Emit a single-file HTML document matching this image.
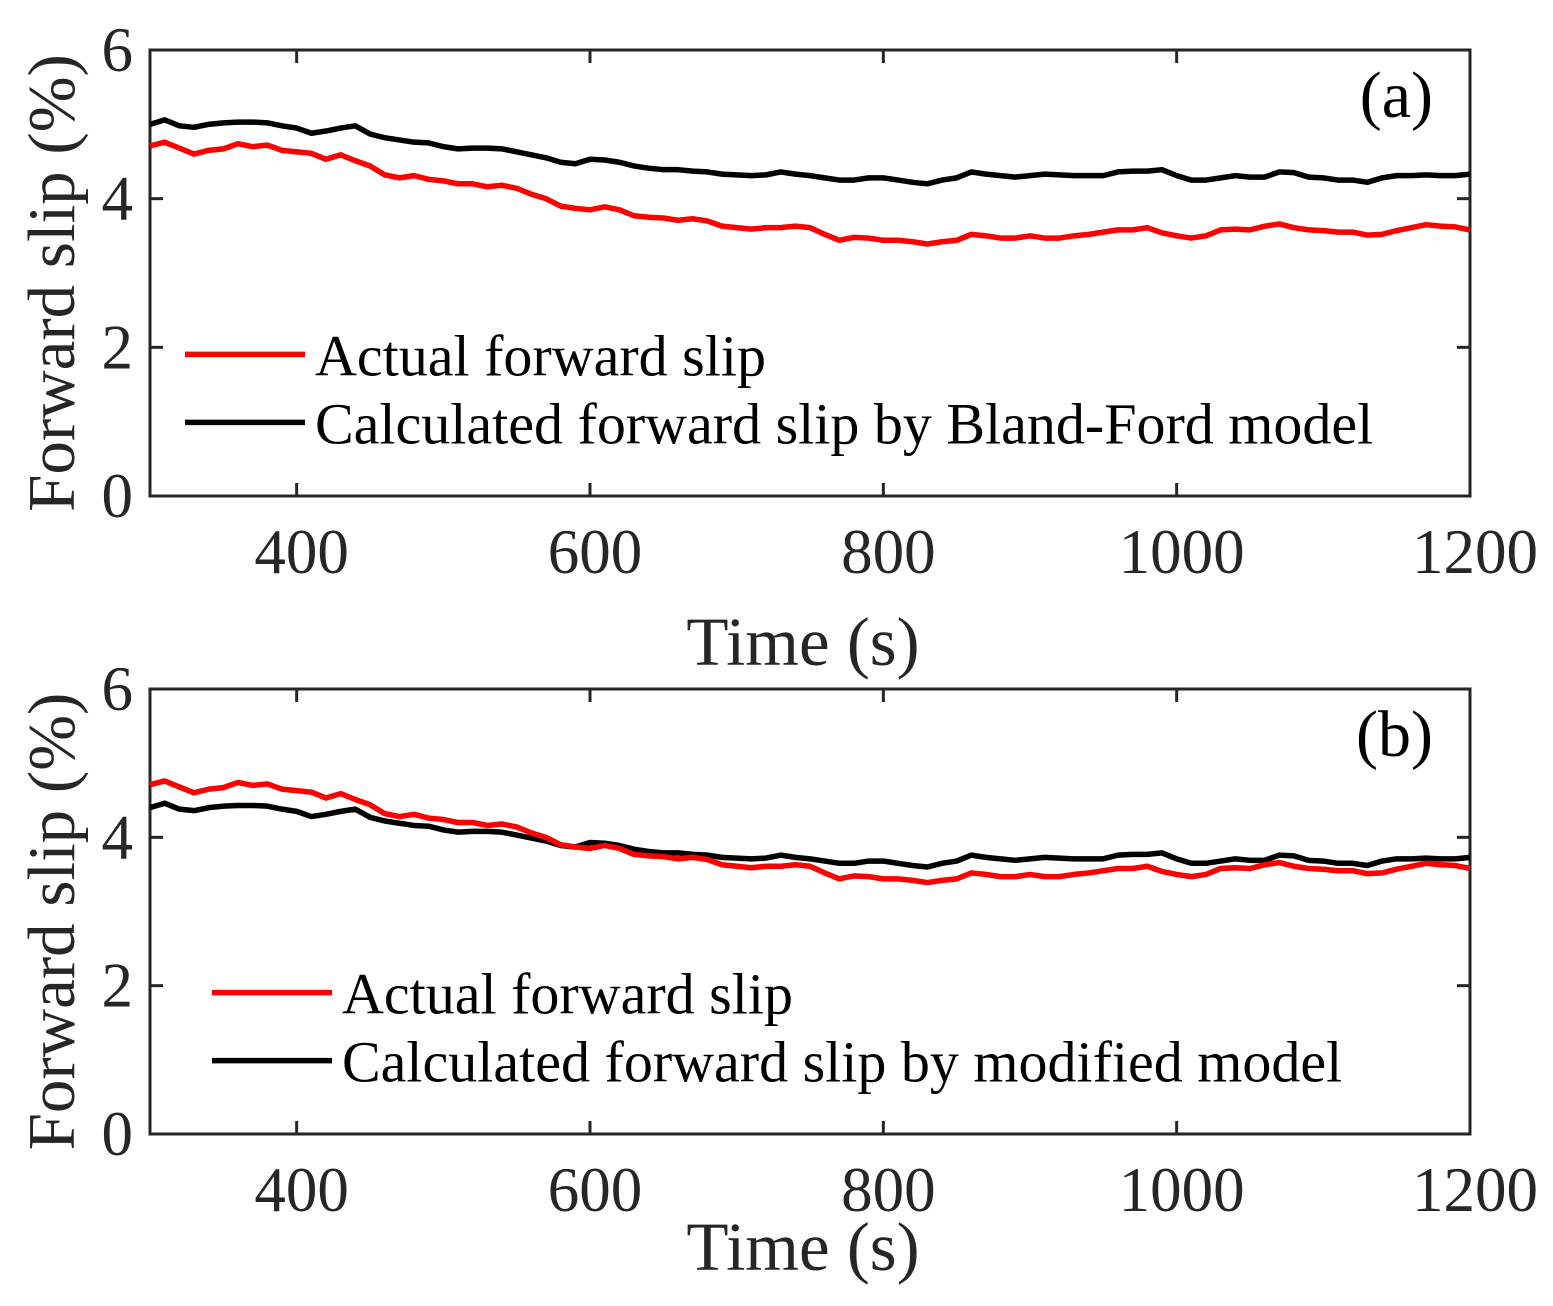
<!DOCTYPE html>
<html><head><meta charset="utf-8"><style>
body{margin:0;background:#fff}
svg{display:block;font-family:"Liberation Serif",serif}
</style></head><body>
<svg id="c" width="1553" height="1306"></svg>
<script>
const times=[];for(let t=300;t<=1200;t+=10)times.push(t);
const actual=[4.71,4.76,4.68,4.60,4.65,4.67,4.74,4.70,4.72,4.65,4.63,4.61,4.53,4.59,4.51,4.44,4.32,4.28,4.31,4.26,4.24,4.20,4.20,4.16,4.18,4.14,4.06,4.00,3.90,3.87,3.85,3.89,3.85,3.77,3.75,3.74,3.71,3.73,3.70,3.63,3.61,3.59,3.61,3.61,3.63,3.61,3.52,3.44,3.48,3.47,3.44,3.44,3.42,3.39,3.42,3.44,3.52,3.50,3.47,3.47,3.50,3.47,3.47,3.50,3.52,3.55,3.58,3.58,3.61,3.54,3.50,3.47,3.50,3.58,3.59,3.58,3.63,3.66,3.61,3.58,3.57,3.55,3.55,3.51,3.52,3.57,3.61,3.65,3.63,3.62,3.58];
const blandFord=[5.00,5.06,4.98,4.96,5.00,5.02,5.03,5.03,5.02,4.98,4.95,4.88,4.91,4.95,4.98,4.87,4.82,4.79,4.76,4.75,4.70,4.67,4.68,4.68,4.67,4.63,4.59,4.55,4.49,4.47,4.53,4.52,4.49,4.44,4.41,4.39,4.39,4.37,4.36,4.33,4.32,4.31,4.32,4.36,4.33,4.31,4.28,4.25,4.25,4.28,4.28,4.25,4.22,4.20,4.25,4.28,4.36,4.33,4.31,4.29,4.31,4.33,4.32,4.31,4.31,4.31,4.36,4.37,4.37,4.39,4.31,4.25,4.25,4.28,4.31,4.29,4.29,4.36,4.35,4.29,4.28,4.25,4.25,4.22,4.28,4.31,4.31,4.32,4.31,4.31,4.33];
const modified=[4.40,4.46,4.38,4.36,4.40,4.42,4.43,4.43,4.42,4.38,4.35,4.28,4.31,4.35,4.38,4.27,4.22,4.19,4.16,4.15,4.10,4.07,4.08,4.08,4.07,4.03,3.99,3.95,3.89,3.87,3.93,3.92,3.89,3.84,3.81,3.79,3.79,3.77,3.76,3.73,3.72,3.71,3.72,3.76,3.73,3.71,3.68,3.65,3.65,3.68,3.68,3.65,3.62,3.60,3.65,3.68,3.76,3.73,3.71,3.69,3.71,3.73,3.72,3.71,3.71,3.71,3.76,3.77,3.77,3.79,3.71,3.65,3.65,3.68,3.71,3.69,3.69,3.76,3.75,3.69,3.68,3.65,3.65,3.62,3.68,3.71,3.71,3.72,3.71,3.71,3.73];
const xTicks=[400,600,800,1000,1200];
const yTicks=[0,2,4,6];
const NS="http://www.w3.org/2000/svg";
const svg=document.getElementById('c');
function mk(tag,attrs,parent){const e=document.createElementNS(NS,tag);for(const k in attrs)e.setAttribute(k,attrs[k]);(parent||svg).appendChild(e);return e;}
function panel(top,bottom,calc,letter,legendX,calcLabel,key,timeY){
  const L=150,R=1470;
  const g=mk('g',{});
  
  
  const xs=t=>L+(t-300)/900*(R-L);
  const ys=v=>bottom-v/6*(bottom-top);
  const box=mk('rect',{x:L,y:top,width:R-L,height:bottom-top,fill:'none',stroke:'#262626','stroke-width':3},g);
  
  
  xTicks.forEach(t=>{
    const x=xs(t);
    mk('line',{x1:x,y1:bottom,x2:x,y2:bottom-13,stroke:'#262626','stroke-width':3},g);
    mk('line',{x1:x,y1:top,x2:x,y2:top+13,stroke:'#262626','stroke-width':3},g);
    const tx=mk('text',{x:x+5,y:bottom+77,'font-size':63,'text-anchor':'middle',fill:'#262626'},g);
    tx.textContent=t;
    
    
  });
  yTicks.forEach(v=>{
    const y=ys(v);
    mk('line',{x1:L,y1:y,x2:L+13,y2:y,stroke:'#262626','stroke-width':3},g);
    mk('line',{x1:R,y1:y,x2:R-13,y2:y,stroke:'#262626','stroke-width':3},g);
    const tx=mk('text',{x:133,y:y+21,'font-size':63,'text-anchor':'end',fill:'#262626'},g);
    tx.textContent=v;
    
    
  });
  const yl=mk('text',{x:0,y:0,'font-size':67,'text-anchor':'middle',fill:'#262626',transform:`translate(74,${(top+bottom)/2+10}) rotate(-90)`},g);
  yl.textContent='Forward slip (%)';
  
  
  const xl=mk('text',{x:803,y:timeY,'font-size':69,'text-anchor':'middle',fill:'#262626'},g);
  xl.textContent='Time (s)';
  
  
  const line=(arr,col,name)=>{
    const p=mk('polyline',{points:arr.map((v,i)=>xs(times[i])+','+ys(v)).join(' '),fill:'none',stroke:col,'stroke-width':5.5,'stroke-linejoin':'round'},g);
    
    
  };
  line(calc,'#000','calculated-line-'+key);
  line(actual,'#ff0000','actual-line-'+key);
  const lt=mk('text',{x:1433,y:top+67,'font-size':66,'text-anchor':'end',fill:'#000'},g);
  lt.textContent=letter;
  
  
  const ly1=ys(2)+7, ly2=ly1+68;
  [[ly1,'#ff0000','Actual forward slip','legend-entry-actual'],[ly2,'#000',calcLabel,'legend-entry-calculated']].forEach(([y,c,txt,n])=>{
    const eg=mk('g',{},g);
    
    
    mk('line',{x1:legendX,y1:y,x2:legendX+120,y2:y,stroke:c,'stroke-width':5.5},eg);
    const t=mk('text',{x:legendX+130,y:y+21,'font-size':58,fill:'#000'},eg);
    t.textContent=txt;
  });
}
panel(50,496,blandFord,'(a)',185,'Calculated forward slip by Bland-Ford model','a',665);
panel(689,1134,modified,'(b)',212,'Calculated forward slip by modified model','b',1270);
</script>
</body></html>
